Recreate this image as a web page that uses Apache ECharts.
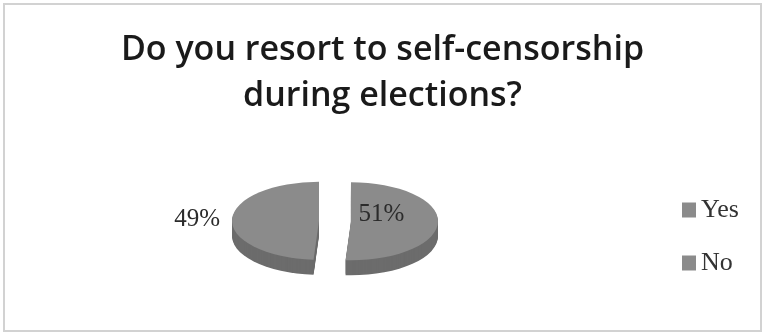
<!DOCTYPE html>
<html>
<head>
<meta charset="utf-8">
<script src="https://cdn.jsdelivr.net/npm/echarts@6/dist/echarts.min.js"></script>
<style>
  html, body { margin: 0; padding: 0; background: #fff; }
  #chart { width: 765px; height: 336px; }
</style>
</head>
<body>
<div id="chart"></div>
<script>
// Survey answers
const categories = ['Yes', 'No'];
const shares = [51, 49];
const titleText = 'Do you resort to self-censorship\nduring elections?';

// Pie geometry (tilted 3-D look: ellipse + extruded wall)
const geo = { cx: 335, cy: 221, rx: 87, ry: 39, depth: 15, explode: 16 };
const topColor = '#8b8b8b';
const sideColor = '#6c6c6c';
const labelPlace = [{ r: 0.35, dy: -7 }, { r: 1.4, dy: 0 }];

const total = shares.reduce((a, b) => a + b, 0);

function sliceRenderer(i) {
  return function (params, api) {
    const before = shares.slice(0, i).reduce((a, b) => a + b, 0);
    const value = api.value(0);
    const start = -Math.PI / 2 + 2 * Math.PI * before / total;
    const end = start + 2 * Math.PI * value / total;
    const mid = (start + end) / 2;
    const k = geo.ry / geo.rx;
    const ox = geo.cx + geo.explode * Math.cos(mid);
    const oy = geo.cy + geo.explode * Math.sin(mid) * k;
    const shape = { cx: 0, cy: 0, r: geo.rx, r0: 0, startAngle: start, endAngle: end };
    const children = [];
    // extruded wall, built from stacked darker layers
    for (let d = geo.depth; d >= 1; d--) {
      children.push({
        type: 'sector', x: ox, y: oy + d, scaleY: k,
        shape: shape, style: { fill: sideColor }
      });
    }
    // top face
    children.push({
      type: 'sector', x: ox, y: oy, scaleY: k,
      shape: shape, style: { fill: topColor }
    });
    const lp = labelPlace[i];
    children.push({
      type: 'text',
      x: ox + lp.r * geo.rx * Math.cos(mid),
      y: oy + lp.r * geo.ry * Math.sin(mid) + lp.dy,
      style: {
        text: value + '%',
        fill: '#2b2b2b',
        font: '25px "Liberation Serif", serif',
        align: 'center',
        verticalAlign: 'middle'
      }
    });
    return { type: 'group', children: children };
  };
}

const chart = echarts.init(document.getElementById('chart'), null, { renderer: 'canvas' });

chart.setOption({
  animation: false,
  backgroundColor: '#ffffff',
  title: {
    text: titleText,
    left: 'center',
    top: 22,
    textStyle: {
      fontFamily: '"Open Sans", sans-serif',
      fontSize: 34,
      fontWeight: 600,
      color: '#1a1a1a',
      lineHeight: 46
    }
  },
  legend: {
    orient: 'vertical',
    left: 677,
    top: 192,
    icon: 'rect',
    itemWidth: 14,
    itemHeight: 15,
    itemGap: 27,
    data: categories,
    textStyle: {
      fontFamily: '"Liberation Serif", serif',
      fontSize: 26,
      lineHeight: 26,
      color: '#333333'
    }
  },
  graphic: [{
    type: 'rect',
    shape: { x: 4, y: 4, width: 757, height: 327 },
    style: { fill: null, stroke: '#d2d2d2', lineWidth: 2 },
    silent: true
  }],
  series: categories.map((name, i) => ({
    type: 'custom',
    name: name,
    coordinateSystem: 'none',
    itemStyle: { color: topColor },
    renderItem: sliceRenderer(i),
    data: [[shares[i]]]
  }))
});
</script>
</body>
</html>
